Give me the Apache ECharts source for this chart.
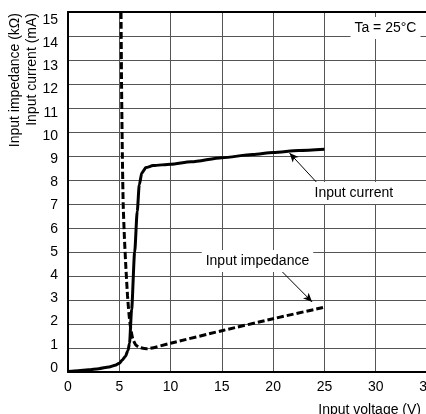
<!DOCTYPE html>
<html>
<head>
<meta charset="utf-8">
<script src="https://cdn.jsdelivr.net/npm/echarts@6/dist/echarts.min.js"></script>
<style>
  html, body { margin: 0; padding: 0; background: #fff; }
  #chart { width: 426px; height: 414px; }
</style>
</head>
<body>
<div id="chart"></div>
<script>
// input current (mA) vs input voltage (V)
const currentPts = [
  [0, 0.02], [1, 0.05], [2, 0.09], [3, 0.14], [4, 0.21], [4.6, 0.28], [5.0, 0.36],
  [5.3, 0.5], [5.6, 0.66], [5.85, 0.9], [6.0, 1.2], [6.2, 2.6], [6.5, 5.0],
  [6.75, 6.7], [6.95, 7.8], [7.2, 8.3], [7.6, 8.52], [8.3, 8.6], [10, 8.66],
  [12, 8.76], [15, 8.93], [18, 9.06], [20, 9.15], [22.5, 9.23], [25, 9.28]
];
// input impedance (kOhm) vs input voltage (V)
const impedancePts = [
  [5.17, 15], [5.22, 12], [5.3, 9], [5.38, 7], [5.5, 5.6], [5.65, 4.3],
  [5.8, 3.2], [5.95, 2.4], [6.1, 1.85], [6.3, 1.4], [6.6, 1.13], [7.0, 1.02],
  [7.7, 0.97], [10, 1.2], [15, 1.72], [20, 2.22], [25, 2.7]
];
const yLabelValues = [0, 1, 2, 3, 4, 5, 6, 7, 8, 9, 10, 11, 12, 13, 14, 15];

const FONT = "'Liberation Sans', Arial, Helvetica, sans-serif";
const chart = echarts.init(document.getElementById('chart'), null, { renderer: 'canvas' });

const option = {
  animation: false,
  textStyle: { fontFamily: FONT, color: '#000' },
  grid: { left: 68, top: 12, width: 359, height: 360, show: false, outerBoundsMode: 'none', containLabel: false },
  xAxis: [
    {
      type: 'value', min: 0, max: 35, interval: 5,
      axisLine: { show: true, onZero: false, lineStyle: { color: '#000', width: 2 } },
      axisTick: { show: false },
      axisLabel: { fontSize: 14, color: '#000', margin: 8, fontFamily: FONT },
      splitLine: { show: true, lineStyle: { color: '#555', width: 1 } }
    },
    {
      type: 'value', min: 0, max: 35, position: 'top',
      axisLine: { show: true, onZero: false, lineStyle: { color: '#000', width: 2 } },
      axisTick: { show: false }, axisLabel: { show: false }, splitLine: { show: false }
    }
  ],
  yAxis: [
    {
      type: 'value', min: 0, max: 15, interval: 1,
      axisLine: { show: true, onZero: false, lineStyle: { color: '#000', width: 2 } },
      axisTick: { show: false }, axisLabel: { show: false },
      splitLine: { show: true, lineStyle: { color: '#555', width: 1 } }
    },
    {
      // label-only axis, the printed numbers sit on a slightly tighter scale
      type: 'value', min: -0.1724, max: 15.345, position: 'left',
      axisLine: { show: false, onZero: false }, axisTick: { show: false }, splitLine: { show: false },
      axisLabel: { customValues: yLabelValues, fontSize: 14, color: '#000', margin: 10, fontFamily: FONT }
    }
  ],
  series: [
    {
      name: 'Input current', type: 'line', data: currentPts,
      showSymbol: false, smooth: 0.25, smoothMonotone: 'x',
      lineStyle: { color: '#000', width: 3 },
      markLine: {
        silent: true, symbol: ['none', 'arrow'], symbolSize: [6, 9],
        label: { show: false },
        lineStyle: { color: '#000', width: 1, type: 'solid' },
        data: [[{ coord: [24.2, 7.92] }, { coord: [21.6, 9.12] }]]
      },
      markPoint: {
        silent: true, symbol: 'rect', symbolSize: 1,
        itemStyle: { color: 'rgba(0,0,0,0)' },
        label: {
          show: true, position: 'inside', fontSize: 14, color: '#000', fontFamily: FONT,
          backgroundColor: '#fff', padding: [4, 4]
        },
        data: [
          { coord: [27.87, 7.46], label: { formatter: 'Input current' } },
          { coord: [30.95, 14.33], label: { formatter: 'Ta = 25°C' } }
        ]
      }
    },
    {
      name: 'Input impedance', type: 'line', data: impedancePts,
      showSymbol: false, smooth: 0.2,
      lineStyle: { color: '#000', width: 3, type: [7, 3] },
      markLine: {
        silent: true, symbol: ['none', 'arrow'], symbolSize: [6, 9],
        label: { show: false },
        lineStyle: { color: '#000', width: 1, type: 'solid' },
        data: [[{ coord: [20.9, 4.17] }, { coord: [23.8, 2.92] }]]
      },
      markPoint: {
        silent: true, symbol: 'rect', symbolSize: 1,
        itemStyle: { color: 'rgba(0,0,0,0)' },
        label: {
          show: true, position: 'inside', fontSize: 14, color: '#000', fontFamily: FONT,
          backgroundColor: '#fff', padding: [4, 4]
        },
        data: [{ coord: [18.47, 4.63], label: { formatter: 'Input impedance' } }]
      }
    }
  ],
  graphic: [
    {
      type: 'text', x: 15, y: 13, rotation: Math.PI / 2,
      style: { text: 'Input impedance (kΩ)', font: '14px ' + FONT, fill: '#000', textAlign: 'right', textVerticalAlign: 'middle' }
    },
    {
      type: 'text', x: 32, y: 13, rotation: Math.PI / 2,
      style: { text: 'Input current (mA)', font: '14px ' + FONT, fill: '#000', textAlign: 'right', textVerticalAlign: 'middle' }
    },
    {
      type: 'text', x: 421, y: 410,
      style: { text: 'Input voltage (V)', font: '14px ' + FONT, fill: '#000', textAlign: 'right', textVerticalAlign: 'middle' }
    }
  ]
};
chart.setOption(option);
</script>
</body>
</html>
